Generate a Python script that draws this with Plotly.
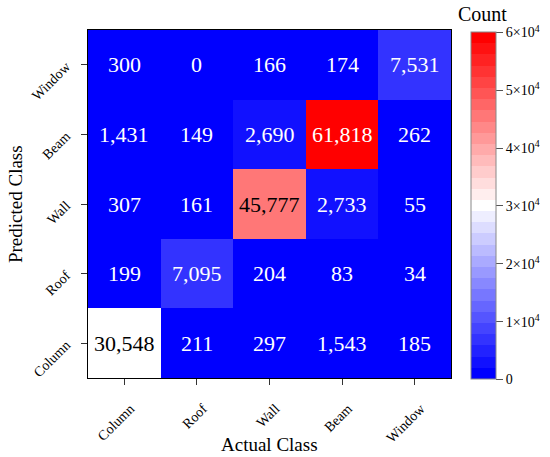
import plotly.graph_objects as go

classes = ["Column", "Roof", "Wall", "Beam", "Window"]
# rows = predicted class (bottom to top), columns = actual class
counts = [
    [30548, 211, 297, 1543, 185],    # Column
    [199, 7095, 204, 83, 34],        # Roof
    [307, 161, 45777, 2733, 55],     # Wall
    [1431, 149, 2690, 61818, 262],   # Beam
    [300, 0, 166, 174, 7531],        # Window
]
cbar_vals = [0, 10000, 20000, 30000, 40000, 50000, 60000]
cbar_text = ["0", "1×10<sup>4</sup>", "2×10<sup>4</sup>", "3×10<sup>4</sup>",
             "4×10<sup>4</sup>", "5×10<sup>4</sup>", "6×10<sup>4</sup>"]

FONT = "Liberation Serif"


def bwr(t):
    # blue -> white -> red
    if t < 0.5:
        v = int(round(255 * t * 2))
        return f"rgb({v},{v},255)"
    v = int(round(255 * (1 - (t - 0.5) * 2)))
    return f"rgb(255,{v},{v})"


# stepped colour bands like the contourf colourbar
n_bands = 31
cscale = []
for i in range(n_bands):
    c = bwr(i / (n_bands - 1))
    cscale.append([i / n_bands, c])
    cscale.append([(i + 1) / n_bands, c])

fig = go.Figure()
fig.add_trace(go.Heatmap(
    z=counts, x=classes, y=classes,
    zmin=0, zmax=60000, colorscale=cscale,
    colorbar=dict(
        xref="container", x=471 / 550, xanchor="left", xpad=0,
        y=0.4943, yanchor="middle", len=0.997, lenmode="fraction", ypad=0,
        thickness=25, outlinecolor="#888", outlinewidth=1,
        tickvals=cbar_vals, ticktext=cbar_text,
        ticks="outside", ticklen=7, tickcolor="#555",
        tickfont=dict(family=FONT, size=14, color="black"),
    ),
))

# cell labels
for r, row in enumerate(counts):
    for c, val in enumerate(row):
        light = 25000 < val < 50000
        fig.add_annotation(
            x=classes[c], y=classes[r], text=f"{val:,}", showarrow=False,
            font=dict(family=FONT, size=22, color="black" if light else "white"),
        )

# titles
fig.add_annotation(
    xref="paper", yref="paper", x=1.087, y=1.0, yanchor="bottom", xanchor="center",
    yshift=3, text="Count", showarrow=False,
    font=dict(family=FONT, size=20, color="black"),
)
fig.add_annotation(
    xref="paper", yref="paper", x=0.5, y=-0.19, yanchor="middle",
    text="Actual Class", showarrow=False,
    font=dict(family=FONT, size=19, color="black"),
)
fig.add_annotation(
    xref="paper", yref="paper", x=-0.201, y=0.5, xanchor="center", textangle=-90,
    text="Predicted Class", showarrow=False,
    font=dict(family=FONT, size=19, color="black"),
)

axis_style = dict(
    tickangle=-45, ticks="outside", ticklen=6, tickcolor="#333",
    tickfont=dict(family=FONT, size=14, color="black"),
    showline=True, linecolor="black", linewidth=1, mirror=True,
    automargin=False,
)
fig.update_xaxes(ticklabelstandoff=10, ticklabelshift=6, **axis_style)
fig.update_yaxes(ticklabelstandoff=12, **axis_style)

fig.update_layout(
    width=550, height=457,
    margin=dict(l=88, r=99, t=30, b=79),
    paper_bgcolor="white", plot_bgcolor="white",
    font=dict(family=FONT),
)

# drop the default page margin so the figure sits at the window corner
fig.write_html("out.html", config={"displayModeBar": False},
               post_script="document.body.style.margin='0';")
